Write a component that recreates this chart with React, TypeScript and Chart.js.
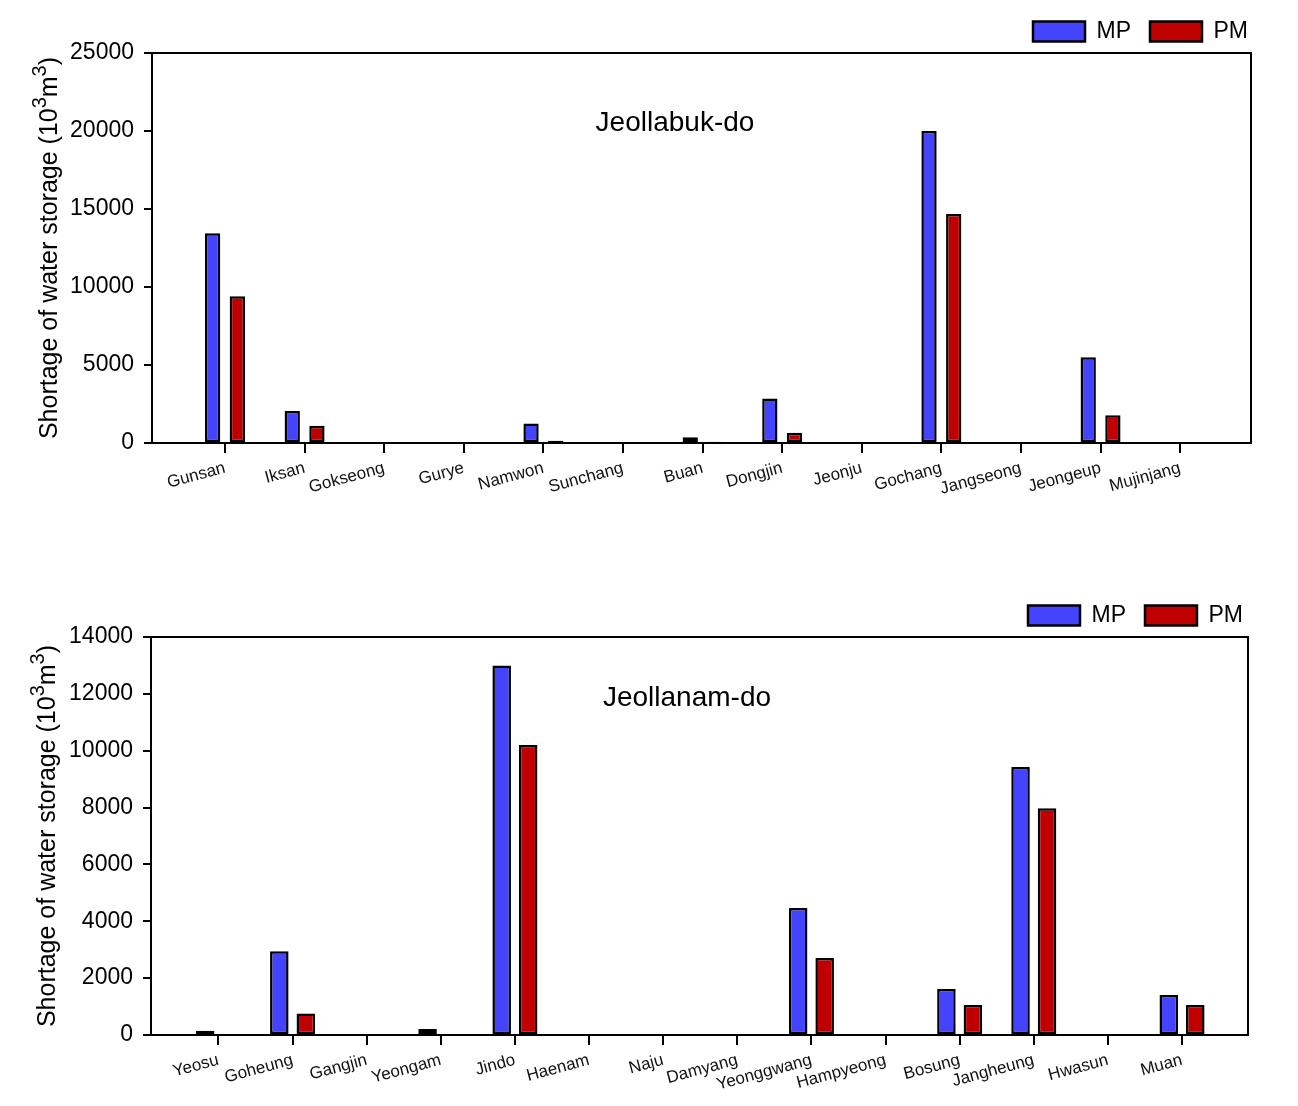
import React, { useEffect, useRef } from 'react';
import { Chart, registerables } from 'chart.js';

Chart.register(...registerables);

const FONT = "'Liberation Sans', Arial, sans-serif";

// ---- Jeollabuk-do ----
const northCategories = ['Gunsan', 'Iksan', 'Gokseong', 'Gurye', 'Namwon', 'Sunchang', 'Buan', 'Dongjin', 'Jeonju', 'Gochang', 'Jangseong', 'Jeongeup', 'Mujinjang'];
const northMP = [13450, 2050, 0, 0, 1250, 0, 370, 2850, 0, 20000, 0, 5500, 0];
const northPM = [9400, 1100, 0, 0, 150, 0, 80, 660, 0, 14680, 0, 1780, 0];
const northYTicks = [0, 5000, 10000, 15000, 20000, 25000];

// ---- Jeollanam-do ----
const southCategories = ['Yeosu', 'Goheung', 'Gangjin', 'Yeongam', 'Jindo', 'Haenam', 'Naju', 'Damyang', 'Yeonggwang', 'Hampyeong', 'Bosung', 'Jangheung', 'Hwasun', 'Muan'];
const southMP = [150, 2950, 0, 210, 13000, 0, 0, 0, 4470, 0, 1620, 9430, 0, 1410];
const southPM = [0, 760, 0, 0, 10200, 0, 0, 0, 2710, 0, 1055, 7980, 0, 1055];
const southYTicks = [0, 2000, 4000, 6000, 8000, 10000, 12000, 14000];

const seriesLabels = ['MP', 'PM'];
// y-axis title pieces: [text, isSuperscript]
const yTitleParts: [string, boolean][] = [
  ['Shortage of water storage (10', false],
  ['3', true],
  ['m', false],
  ['3', true],
  [')', false],
];

const W = 1298;

type Cfg = {
  title: string;
  categories: string[];
  mp: number[];
  pm: number[];
  yTicks: number[];
  top: number;
  height: number;
  plotLeft: number;
  plotRight: number;
  plotTop: number;
  plotBottom: number;
  padLeftSteps: number;
  padRightSteps: number;
  legendTop: number;
  legendPad: number;
  legendRight: number;
  titleX: number;
  titleY: number;
  yTitleX: number;
  catPct: number;
  barPct: number;
};

const northCfg: Cfg = {
  title: 'Jeollabuk-do',
  categories: northCategories,
  mp: northMP,
  pm: northPM,
  yTicks: northYTicks,
  top: 0,
  height: 560,
  plotLeft: 152,
  plotRight: 1251,
  plotTop: 53,
  plotBottom: 443,
  padLeftSteps: 0.917,
  padRightSteps: 0.89,
  legendTop: -3,
  legendPad: 19,
  legendRight: 31,
  titleX: 675,
  titleY: 123,
  yTitleX: 48,
  catPct: 0.62,
  barPct: 0.62,
};

const southCfg: Cfg = {
  title: 'Jeollanam-do',
  categories: southCategories,
  mp: southMP,
  pm: southPM,
  yTicks: southYTicks,
  top: 560,
  height: 546,
  plotLeft: 151,
  plotRight: 1248,
  plotTop: 77,
  plotBottom: 475,
  padLeftSteps: 0.91,
  padRightSteps: 0.89,
  legendTop: 23,
  legendPad: 19,
  legendRight: 36,
  titleX: 687,
  titleY: 138,
  yTitleX: 46,
  catPct: 0.715,
  barPct: 0.7,
};

function BarPanel({ cfg }: { cfg: Cfg }) {
  const ref = useRef<HTMLCanvasElement>(null);

  useEffect(() => {
    if (!ref.current) return;
    const n = cfg.categories.length;
    const yMax = cfg.yTicks[cfg.yTicks.length - 1];

    const framePlugin = {
      id: 'frameAndTitle',
      afterDraw(chart: any) {
        const { ctx, chartArea: a } = chart;
        ctx.save();
        ctx.strokeStyle = '#000';
        ctx.lineWidth = 2;
        ctx.beginPath();
        ctx.moveTo(a.left, a.top);
        ctx.lineTo(a.right, a.top);
        ctx.lineTo(a.right, a.bottom);
        ctx.stroke();

        // panel title
        ctx.font = `28px ${FONT}`;
        ctx.fillStyle = '#000';
        ctx.textAlign = 'center';
        ctx.textBaseline = 'middle';
        ctx.fillText(cfg.title, cfg.titleX, cfg.titleY);

        // rotated y-axis title with superscripts
        const mainFont = `25px ${FONT}`;
        const supFont = `20px ${FONT}`;
        let total = 0;
        const widths = yTitleParts.map(([t, sup]) => {
          ctx.font = sup ? supFont : mainFont;
          const w = ctx.measureText(t).width;
          total += w;
          return w;
        });
        ctx.translate(cfg.yTitleX, (a.top + a.bottom) / 2);
        ctx.rotate(-Math.PI / 2);
        ctx.textAlign = 'left';
        ctx.textBaseline = 'alphabetic';
        let x = -total / 2;
        yTitleParts.forEach(([t, sup], i) => {
          ctx.font = sup ? supFont : mainFont;
          ctx.fillText(t, x, sup ? -2 : 9);
          x += widths[i];
        });
        ctx.restore();
      },
    };

    const chart = new Chart(ref.current, {
      type: 'bar',
      data: {
        datasets: [
          {
            label: seriesLabels[0],
            data: cfg.mp.map((v, i) => ({ x: i + 1, y: v })),
            backgroundColor: '#4444ff',
            borderColor: '#000',
            borderWidth: 2.5,
            borderSkipped: false,
            categoryPercentage: cfg.catPct,
            barPercentage: cfg.barPct,
          },
          {
            label: seriesLabels[1],
            data: cfg.pm.map((v, i) => ({ x: i + 1, y: v })),
            backgroundColor: '#c00000',
            borderColor: '#000',
            borderWidth: 2.5,
            borderSkipped: false,
            categoryPercentage: cfg.catPct,
            barPercentage: cfg.barPct,
          },
        ],
      } as any,
      options: {
        responsive: false,
        animation: false,
        layout: { padding: { top: cfg.legendTop, right: cfg.legendRight, left: 0, bottom: 0 } },
        plugins: {
          legend: {
            position: 'top',
            align: 'end',
            labels: {
              boxWidth: 52,
              boxHeight: 20,
              padding: cfg.legendPad,
              color: '#000',
              font: { size: 23, family: FONT },
            },
          },
          tooltip: { enabled: false },
        },
        scales: {
          x: {
            type: 'linear',
            min: 1 - cfg.padLeftSteps,
            max: n + cfg.padRightSteps,
            offset: false,
            grid: { offset: false, drawOnChartArea: false, color: '#000', lineWidth: 2, tickLength: 10 },
            border: { color: '#000', width: 2 },
            ticks: {
              autoSkip: false,
              minRotation: 15,
              maxRotation: 15,
              padding: 5,
              color: '#111',
              font: { size: 17, family: FONT },
              callback: (v: any) => cfg.categories[Math.round(Number(v)) - 1] ?? '',
            },
            afterBuildTicks: (s: any) => {
              s.ticks = cfg.categories.map((_, i) => ({ value: i + 1 }));
            },
            afterFit: (s: any) => {
              s.height = cfg.height - cfg.plotBottom;
              s.paddingRight = W - cfg.plotRight;
            },
          },
          y: {
            type: 'linear',
            min: 0,
            max: yMax,
            grid: { drawOnChartArea: false, color: '#000', lineWidth: 2, tickLength: 8 },
            border: { color: '#000', width: 2 },
            ticks: {
              padding: 10,
              color: '#000',
              font: { size: 23, family: FONT },
              callback: (v: any) => String(v),
            },
            afterBuildTicks: (s: any) => {
              s.ticks = cfg.yTicks.map((v) => ({ value: v }));
            },
            afterFit: (s: any) => {
              s.width = cfg.plotLeft;
              s.paddingTop = cfg.plotTop;
            },
            title: { display: false },
          },
        },
      } as any,
      plugins: [framePlugin],
    });

    return () => chart.destroy();
  }, [cfg]);

  return (
    <canvas
      ref={ref}
      width={W}
      height={cfg.height}
      style={{ position: 'absolute', left: 0, top: cfg.top, display: 'block' }}
    />
  );
}

export default function App() {
  return (
    <div style={{ position: 'absolute', left: 0, top: 0, width: W, height: 1106, background: '#fff' }}>
      <BarPanel cfg={northCfg} />
      <BarPanel cfg={southCfg} />
    </div>
  );
}
